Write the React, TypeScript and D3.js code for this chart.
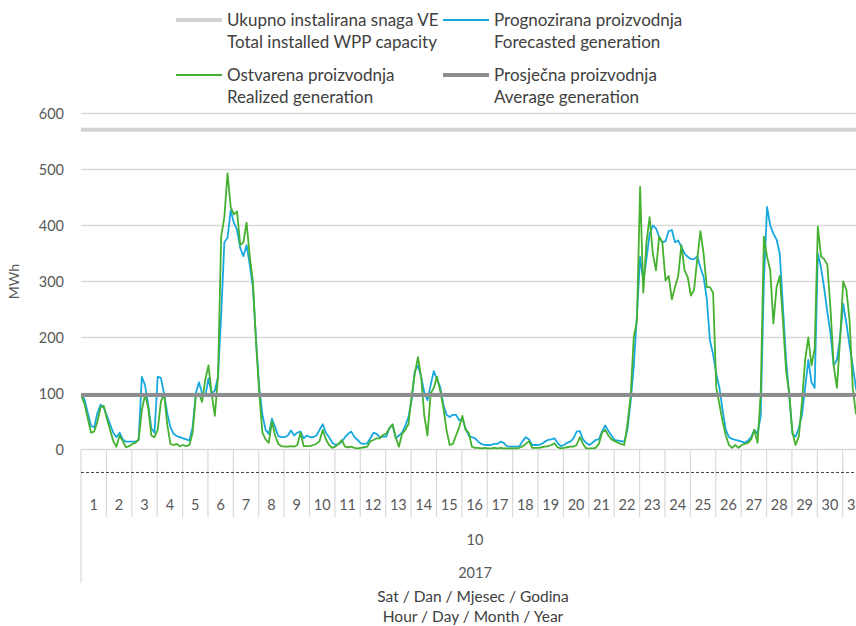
import React from 'react';
import * as d3 from 'd3';

// wind generation, October 2017, one value every 3 hours (8 per day)
const days = d3.range(1, 32);
const yTicks = [0, 100, 200, 300, 400, 500, 600];

const forecast = [
  100, 88, 65, 42, 40, 65, 80, 75,
  60, 45, 30, 22, 30, 18, 14, 14,
  14, 14, 17, 130, 115, 80, 38, 30,
  130, 128, 100, 65, 40, 28, 24, 22,
  20, 18, 16, 40, 100, 120, 100, 95,
  127, 100, 105, 130, 240, 370, 378, 427,
  405, 392, 360, 345, 365, 330, 290, 195,
  110, 62, 35, 28, 55, 40, 24, 22,
  22, 25, 34, 25, 30, 32, 20, 25,
  22, 22, 25, 35, 45, 30, 22, 12,
  8, 10, 14, 22, 28, 32, 22, 17,
  11, 10, 11, 20, 30, 28, 22, 23,
  23, 38, 44, 20, 25, 30, 42, 58,
  88, 140, 150, 130, 102, 88, 115, 140,
  125, 112, 80, 62, 58, 62, 62, 52,
  55, 38, 25, 22, 20, 14, 10, 8,
  8, 8, 10, 10, 14, 12, 6, 5,
  5, 5, 6, 15, 22, 18, 8, 8,
  8, 10, 14, 17, 18, 20, 12, 6,
  8, 12, 14, 20, 32, 33, 18, 12,
  8, 12, 17, 18, 32, 43, 33, 25,
  17, 16, 15, 14, 35, 85, 148, 240,
  344, 300, 340, 385, 400, 395, 380, 370,
  372, 390, 392, 370, 373, 362, 350, 344,
  340, 340, 345, 325, 308, 270, 195, 170,
  135, 110, 70, 35, 22, 19, 17, 16,
  14, 12, 16, 22, 35, 28, 60, 300,
  433, 400, 385, 375, 350, 255, 160, 95,
  28, 23, 38, 62, 110, 160, 120, 110,
  350, 325, 288, 245, 207, 150, 160, 200,
  260, 225, 185, 150, 110, 85, 70, 60,
];

const realized = [
  95, 80, 55, 30, 32, 50, 75, 78,
  55, 35, 15, 5, 25, 15, 4, 6,
  10, 12, 18, 70, 98, 75, 25, 22,
  35, 85, 100, 45, 10, 8, 10, 6,
  8, 6, 8, 30, 95, 100, 85, 125,
  150, 100, 60, 130, 380, 415, 493, 433,
  420, 425, 365, 370, 405, 345, 300, 190,
  100, 30, 18, 12, 50, 25, 10, 6,
  5, 5, 6, 5, 8, 30, 6, 6,
  6, 8, 10, 15, 35, 18, 8, 3,
  5, 10, 17, 5, 4, 5, 3, 2,
  3, 4, 5, 15, 17, 20, 20, 26,
  28, 38, 45, 22, 5, 28, 35, 45,
  95, 135, 165, 130, 60, 25, 100, 110,
  130, 105, 75, 35, 8, 10, 25, 40,
  60, 35, 30, 5, 3, 3, 2, 3,
  2, 2, 3, 2, 3, 2, 2, 2,
  2, 2, 3, 6, 10, 15, 3, 3,
  3, 4, 5, 6, 8, 11, 4, 2,
  3, 4, 5, 5, 8, 22, 10, 2,
  2, 2, 3, 10, 30, 35, 25, 18,
  15, 12, 10, 8, 45, 95, 200, 230,
  469, 280, 370, 415, 350, 320, 380, 370,
  302, 310, 268, 290, 310, 365, 320, 308,
  275, 285, 340, 390, 350, 290, 290, 280,
  110, 80, 50, 25, 8, 3, 8, 3,
  8, 10, 12, 18, 35, 12, 100, 380,
  344, 320, 225, 290, 310, 230, 140, 100,
  30, 8, 23, 85, 160, 200, 150, 180,
  398, 345, 340, 330, 250, 150, 110, 195,
  300, 285, 230, 110, 64, 60, 70, 80,
];

const capacity = 571;
const average = 97.5;
const baseLevel = -41;

const font = 'Lato, "Noto Sans", sans-serif';
const textColor = '#404040';
const tickColor = '#595959';

export default function App() {
  const width = 856;
  const height = 626;
  const left = 81;
  const dayWidth = 25.39;
  const right = left + days.length * dayWidth;

  const x = d3.scaleLinear().domain([0, days.length * 24]).range([left, right]);
  const y = d3.scaleLinear().domain([0, 600]).range([449.5, 113.5]);

  const line = d3.line<number>()
    .x((d, i) => x(i * 3 + 0.5))
    .y(d => y(d));

  const legend = [
    { x: 176, y: 20, color: '#d0d3d4', w: 4, l1: 'Ukupno instalirana snaga VE', l2: 'Total installed WPP capacity' },
    { x: 443, y: 20, color: '#18a8e0', w: 2, l1: 'Prognozirana proizvodnja', l2: 'Forecasted generation' },
    { x: 176, y: 75, color: '#46b030', w: 2, l1: 'Ostvarena proizvodnja', l2: 'Realized generation' },
    { x: 443, y: 75, color: '#8c8d8e', w: 4, l1: 'Prosječna proizvodnja', l2: 'Average generation' },
  ];

  return (
    <div style={{ position: 'absolute', left: 0, top: 0 }}>
      <svg width={width} height={height} style={{ display: 'block', background: '#fff' }} fontFamily={font}>
        {/* legend */}
        {legend.map(d => (
          <g key={d.l1}>
            <line x1={d.x} x2={d.x + 46} y1={d.y} y2={d.y} stroke={d.color} strokeWidth={d.w} />
            <text x={d.x + 51} y={d.y} dy="0.35em" fontSize={17} fill={textColor}>{d.l1}</text>
            <text x={d.x + 51} y={d.y + 22.5} dy="0.35em" fontSize={17} fill={textColor}>{d.l2}</text>
          </g>
        ))}

        {/* grid */}
        {yTicks.map(t => (
          <g key={t}>
            {t > 0 && <line x1={left} x2={right} y1={y(t)} y2={y(t)} stroke="#d9d9d9" strokeWidth={1.5} />}
            <text x={64} y={y(t)} dy="0.35em" textAnchor="end" fontSize={14.5} fill={tickColor}>{t}</text>
          </g>
        ))}
        <text transform={`translate(19,${y(300)}) rotate(-90)`} textAnchor="middle" fontSize={14} fill={tickColor}>MWh</text>

        {/* category axis */}
        <line x1={left} x2={right} y1={y(0)} y2={y(0)} stroke="#d9d9d9" strokeWidth={1.5} />
        {days.map((d, i) => (
          <g key={d}>
            <line x1={x(i * 24)} x2={x(i * 24)} y1={y(0)} y2={i === 0 ? 583 : 517} stroke="#d9d9d9" strokeWidth={1.2} />
            <text x={x(i * 24 + 12)} y={505} dy="0.35em" textAnchor="middle" fontSize={14.5} fill={tickColor}>{d}</text>
          </g>
        ))}
        <line x1={left} x2={right} y1={y(baseLevel)} y2={y(baseLevel)} stroke="#404040" strokeWidth={1} strokeDasharray="3,2" />
        <text x={475} y={540} dy="0.35em" textAnchor="middle" fontSize={14.5} fill={tickColor}>10</text>
        <text x={475} y={573} dy="0.35em" textAnchor="middle" fontSize={14.5} fill={tickColor}>2017</text>
        <text x={473} y={597} dy="0.35em" textAnchor="middle" fontSize={15.5} fill={textColor}>Sat / Dan / Mjesec / Godina</text>
        <text x={473} y={617} dy="0.32em" textAnchor="middle" fontSize={15.5} fill={textColor}>Hour / Day / Month / Year</text>

        {/* series */}
        <line x1={left} x2={right} y1={y(capacity)} y2={y(capacity)} stroke="#d0d3d4" strokeWidth={4} />
        <path d={line(forecast) ?? ''} fill="none" stroke="#18a8e0" strokeWidth={1.8} strokeLinejoin="round" />
        <path d={line(realized) ?? ''} fill="none" stroke="#46b030" strokeWidth={1.8} strokeLinejoin="round" />
        <line x1={left} x2={right} y1={y(average)} y2={y(average)} stroke="#8c8d8e" strokeWidth={4} />
      </svg>
    </div>
  );
}
